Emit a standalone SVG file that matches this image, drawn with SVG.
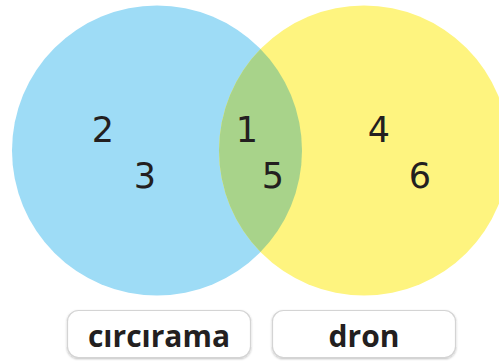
<svg xmlns="http://www.w3.org/2000/svg" width="499" height="361" viewBox="0 0 499 361">
<defs>
<clipPath id="clipBlue"><circle cx="157" cy="150.5" r="145"/></clipPath>
<filter id="sh" x="-10%" y="-20%" width="120%" height="150%"><feDropShadow dx="0" dy="1" stdDeviation="1.2" flood-color="#000" flood-opacity="0.25"/></filter>
</defs>
<style>
.num{font-family:"DejaVu Sans",sans-serif;font-size:35px;fill:#231f20;text-anchor:middle}
.lbl{font-family:"Open Sans","Noto Sans",sans-serif;font-weight:bold;font-size:30px;fill:#231f20;text-anchor:middle}
.box{fill:#fff;stroke:#d4d4d4;stroke-width:1.2}
</style>
<rect width="499" height="361" fill="#fff"/>
<g id="set-circirama"><circle cx="157" cy="150.5" r="145" fill="#9edcf6"/></g>
<g id="set-dron"><circle cx="364" cy="150.5" r="145" fill="#fef47f"/></g>
<g id="intersection"><circle cx="364" cy="150.5" r="145" fill="#a8d38a" clip-path="url(#clipBlue)"/></g>
<g id="numbers">
<text class="num" x="103" y="142">2</text>
<text class="num" x="145" y="188">3</text>
<text class="num" x="247" y="142">1</text>
<text class="num" x="273" y="188">5</text>
<text class="num" x="379" y="142">4</text>
<text class="num" x="420" y="188">6</text>
</g>
<g id="label-circirama"><rect class="box" x="67.5" y="310.5" width="183" height="47" rx="11" filter="url(#sh)"/><text class="lbl" x="159" y="347">cırcırama</text></g>
<g id="label-dron"><rect class="box" x="272.5" y="310.5" width="183" height="47" rx="11" filter="url(#sh)"/><text class="lbl" x="364" y="347">dron</text></g>
<g id="connectors"></g>
</svg>
